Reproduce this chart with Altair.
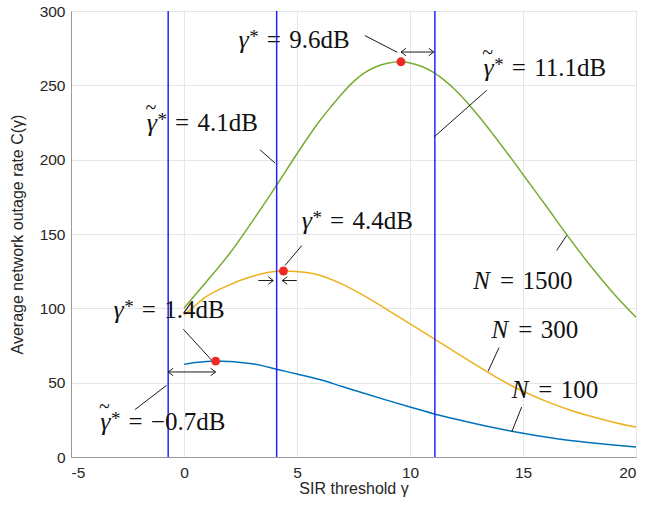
import altair as alt
import pandas as pd

# ---- data ----
x_n100 = [0, 0.5, 1, 1.4, 2, 2.5, 3, 3.5, 4, 4.5, 5, 6, 7, 8, 9, 10, 11, 12, 13, 14, 15, 16, 17, 18, 19, 20]
y_n100 = [62.3, 63.5, 64.3, 64.5, 64.2, 63.6, 62.8, 61.3, 59.4, 57.6, 55.8, 52.1, 47.4, 42.7, 38.1, 33.6, 29.3, 25.5, 22.0, 18.8, 15.9, 13.4, 11.3, 9.6, 8.1, 6.8]

x_n300 = [0, 0.5, 1, 1.5, 2, 2.5, 3, 3.5, 4, 4.4, 5, 5.5, 6, 7, 8, 9, 10, 11, 12, 13, 14, 15, 16, 17, 18, 19, 20]
y_n300 = [95.3, 102.0, 108.0, 112.2, 115.7, 118.9, 121.4, 123.4, 124.7, 125.1, 124.7, 124.0, 122.3, 116.3, 108.2, 99.0, 89.6, 80.2, 70.6, 61.2, 52.0, 44.2, 37.6, 32.0, 27.4, 23.4, 20.1]

x_n1500 = [0, 1, 2, 3, 4, 5, 6, 6.5, 7, 7.5, 8, 8.5, 9, 9.6, 10, 10.5, 11, 11.5, 12, 12.5, 13, 13.5, 14, 14.5, 15, 16, 17, 18, 19, 20]
y_n1500 = [100.2, 118.0, 136.5, 158.0, 180.5, 204.0, 226.0, 235.5, 244.5, 252.5, 258.5, 262.5, 264.8, 265.8, 265.0, 262.8, 259.0, 253.7, 247.0, 239.0, 230.0, 220.5, 210.5, 200.5, 190.0, 169.3, 148.2, 128.3, 110.2, 94.0]

series_names = ["N=100", "N=300", "N=1500"]
series_colors = ["#0072BD", "#EDB120", "#77AC30"]

vline_x = [-0.7, 4.1, 11.1]

opt_x = [1.4, 4.4, 9.6]
opt_y = [64.5, 125.1, 265.8]

# annotation labels: symbol kind, symbol, value part, x where "=" starts, centre y
lab_kind = ["g", "gt", "gt", "g", "g", "gt", "N", "N", "N"]
lab_sym = ["γ", "γ", "γ", "γ", "γ", "γ", "N", "N", "N"]
lab_rest = ["=\u20049.6dB", "=\u20044.1dB", "=\u200411.1dB", "=\u20044.4dB", "=\u20041.4dB",
            "=\u2004−0.7dB", "=\u20041500", "=\u2004300", "=\u2004100"]
lab_x = [3.66, -0.40, 14.50, 6.46, -1.87, -2.46, 13.98, 14.79, 15.68]
lab_y = [280.2, 225.0, 261.4, 158.5, 98.7, 23.5, 118.4, 85.2, 44.9]

# leader lines (x, y) -> (x2, y2)
lead_x = [8.0, 3.36, 13.39, 5.21, -0.03, -2.17, 16.49, 13.94, 14.94]
lead_y = [283.5, 206.7, 246.6, 142.2, 85.9, 31.9, 138.9, 73.6, 33.6]
lead_x2 = [9.44, 4.03, 11.06, 4.47, 1.23, -0.77, 16.93, 13.46, 14.50]
lead_y2 = [272.2, 197.7, 215.2, 128.8, 65.0, 48.2, 149.0, 57.8, 16.8]

# arrow shafts
arr_x = [9.6, -0.7, 3.29, 4.99]
arr_x2 = [11.05, 1.4, 3.95, 4.35]
arr_y = [272.4, 57.2, 118.7, 118.7]
# arrow heads
head_r_x = [11.05, 1.4, 3.95]
head_r_y = [272.4, 57.2, 118.7]
head_l_x = [9.6, -0.7, 4.35]
head_l_y = [272.4, 57.2, 118.7]

# ---- tables ----
curves = pd.concat([
    pd.DataFrame({"x": x_n100, "y": y_n100, "s": series_names[0]}),
    pd.DataFrame({"x": x_n300, "y": y_n300, "s": series_names[1]}),
    pd.DataFrame({"x": x_n1500, "y": y_n1500, "s": series_names[2]}),
])
vl = pd.DataFrame({"x": vline_x})
dots = pd.DataFrame({"x": opt_x, "y": opt_y})
labels = pd.DataFrame({"k": lab_kind, "sym": lab_sym, "b": lab_rest, "x": lab_x, "y": lab_y})
leads = pd.DataFrame({"x": lead_x, "y": lead_y, "x2": lead_x2, "y2": lead_y2})
arrows = pd.DataFrame({"x": arr_x, "x2": arr_x2, "y": arr_y})
heads_r = pd.DataFrame({"x": head_r_x, "y": head_r_y})
heads_l = pd.DataFrame({"x": head_l_x, "y": head_l_y})

xs = alt.Scale(domain=[-5, 20], nice=False, zero=False)
ys = alt.Scale(domain=[0, 300], nice=False)

X = alt.X("x:Q", scale=xs, title="SIR threshold γ",
          axis=alt.Axis(values=[-5, 0, 5, 10, 15, 20], labelPadding=8, titlePadding=0,
                        labelExpr="replace(datum.label, '−', '-')"))
Y = alt.Y("y:Q", scale=ys, title="Average network outage rate C(γ)",
          axis=alt.Axis(values=[0, 50, 100, 150, 200, 250, 300], labelPadding=6, titlePadding=14))

base_x = alt.X("x:Q", scale=xs)
base_y = alt.Y("y:Q", scale=ys)

lines = alt.Chart(curves).mark_line(strokeWidth=1.5, interpolate="monotone").encode(
    x=X, y=Y,
    color=alt.Color("s:N", scale=alt.Scale(domain=series_names, range=series_colors), legend=None),
    detail="s:N",
)

vrules = alt.Chart(vl).mark_rule(color="#2424ff", strokeWidth=1.5).encode(x=base_x)

leaders = alt.Chart(leads).mark_rule(color="#1a1a1a", strokeWidth=1).encode(
    x=base_x, y=base_y, x2="x2:Q", y2="y2:Q")

shafts = alt.Chart(arrows).mark_rule(color="#1a1a1a", strokeWidth=1).encode(
    x=base_x, x2="x2:Q", y=base_y)

hr = alt.Chart(heads_r).mark_point(shape="M-1,-0.75L0,0L-1,0.75", size=100, filled=False,
                                    color="#1a1a1a", strokeWidth=1, opacity=1).encode(x=base_x, y=base_y)
hl = alt.Chart(heads_l).mark_point(shape="M1,-0.75L0,0L1,0.75", size=100, filled=False,
                                    color="#1a1a1a", strokeWidth=1, opacity=1).encode(x=base_x, y=base_y)

pts = alt.Chart(dots).mark_circle(size=80, color="#ee2a24", opacity=1).encode(x=base_x, y=base_y)

tc = "#111111"
serif = "Liberation Serif"
lab = alt.Chart(labels)
txt_val = lab.mark_text(font=serif, fontSize=25, align="left", baseline="middle", color=tc).encode(
    x=base_x, y=base_y, text="b:N")
is_g = "datum.k != 'N'"
txt_gamma = lab.transform_filter(is_g).mark_text(
    font=serif, fontSize=26, fontStyle="italic", align="right", baseline="middle",
    dx=-18, color=tc).encode(x=base_x, y=base_y, text="sym:N")
txt_star = lab.transform_filter(is_g).mark_text(
    font=serif, fontSize=19, align="right", baseline="middle", dx=-8, dy=-3, color=tc).encode(
    x=base_x, y=base_y, text=alt.value("*"))
txt_tilde = lab.transform_filter("datum.k == 'gt'").mark_text(
    font=serif, fontSize=20, align="center", baseline="middle", dx=-24, dy=-15, color=tc).encode(
    x=base_x, y=base_y, text=alt.value("~"))
txt_n = lab.transform_filter("datum.k == 'N'").mark_text(
    font=serif, fontSize=25, fontStyle="italic", align="right", baseline="middle",
    dx=-10, color=tc).encode(x=base_x, y=base_y, text="sym:N")

chart = alt.layer(lines, vrules, leaders, shafts, hr, hl, pts,
                  txt_val, txt_gamma, txt_star, txt_tilde, txt_n).properties(
    width=565, height=446,
    autosize=alt.AutoSizeParams(type="none"),
    padding={"left": 71, "top": 11, "right": 9, "bottom": 51},
).configure_view(stroke="#9a9a9a", strokeWidth=1).configure_axis(
    grid=True, gridColor="#e6e6e6", gridWidth=1,
    domainColor="#9a9a9a", ticks=False,
    labelFont="Liberation Sans", labelFontSize=15.5, labelColor="#262626",
    titleFont="Liberation Sans", titleFontSize=16, titleFontWeight="normal", titleColor="#262626",
)

chart.save("out.html", embed_options={"renderer": "svg", "actions": False})
